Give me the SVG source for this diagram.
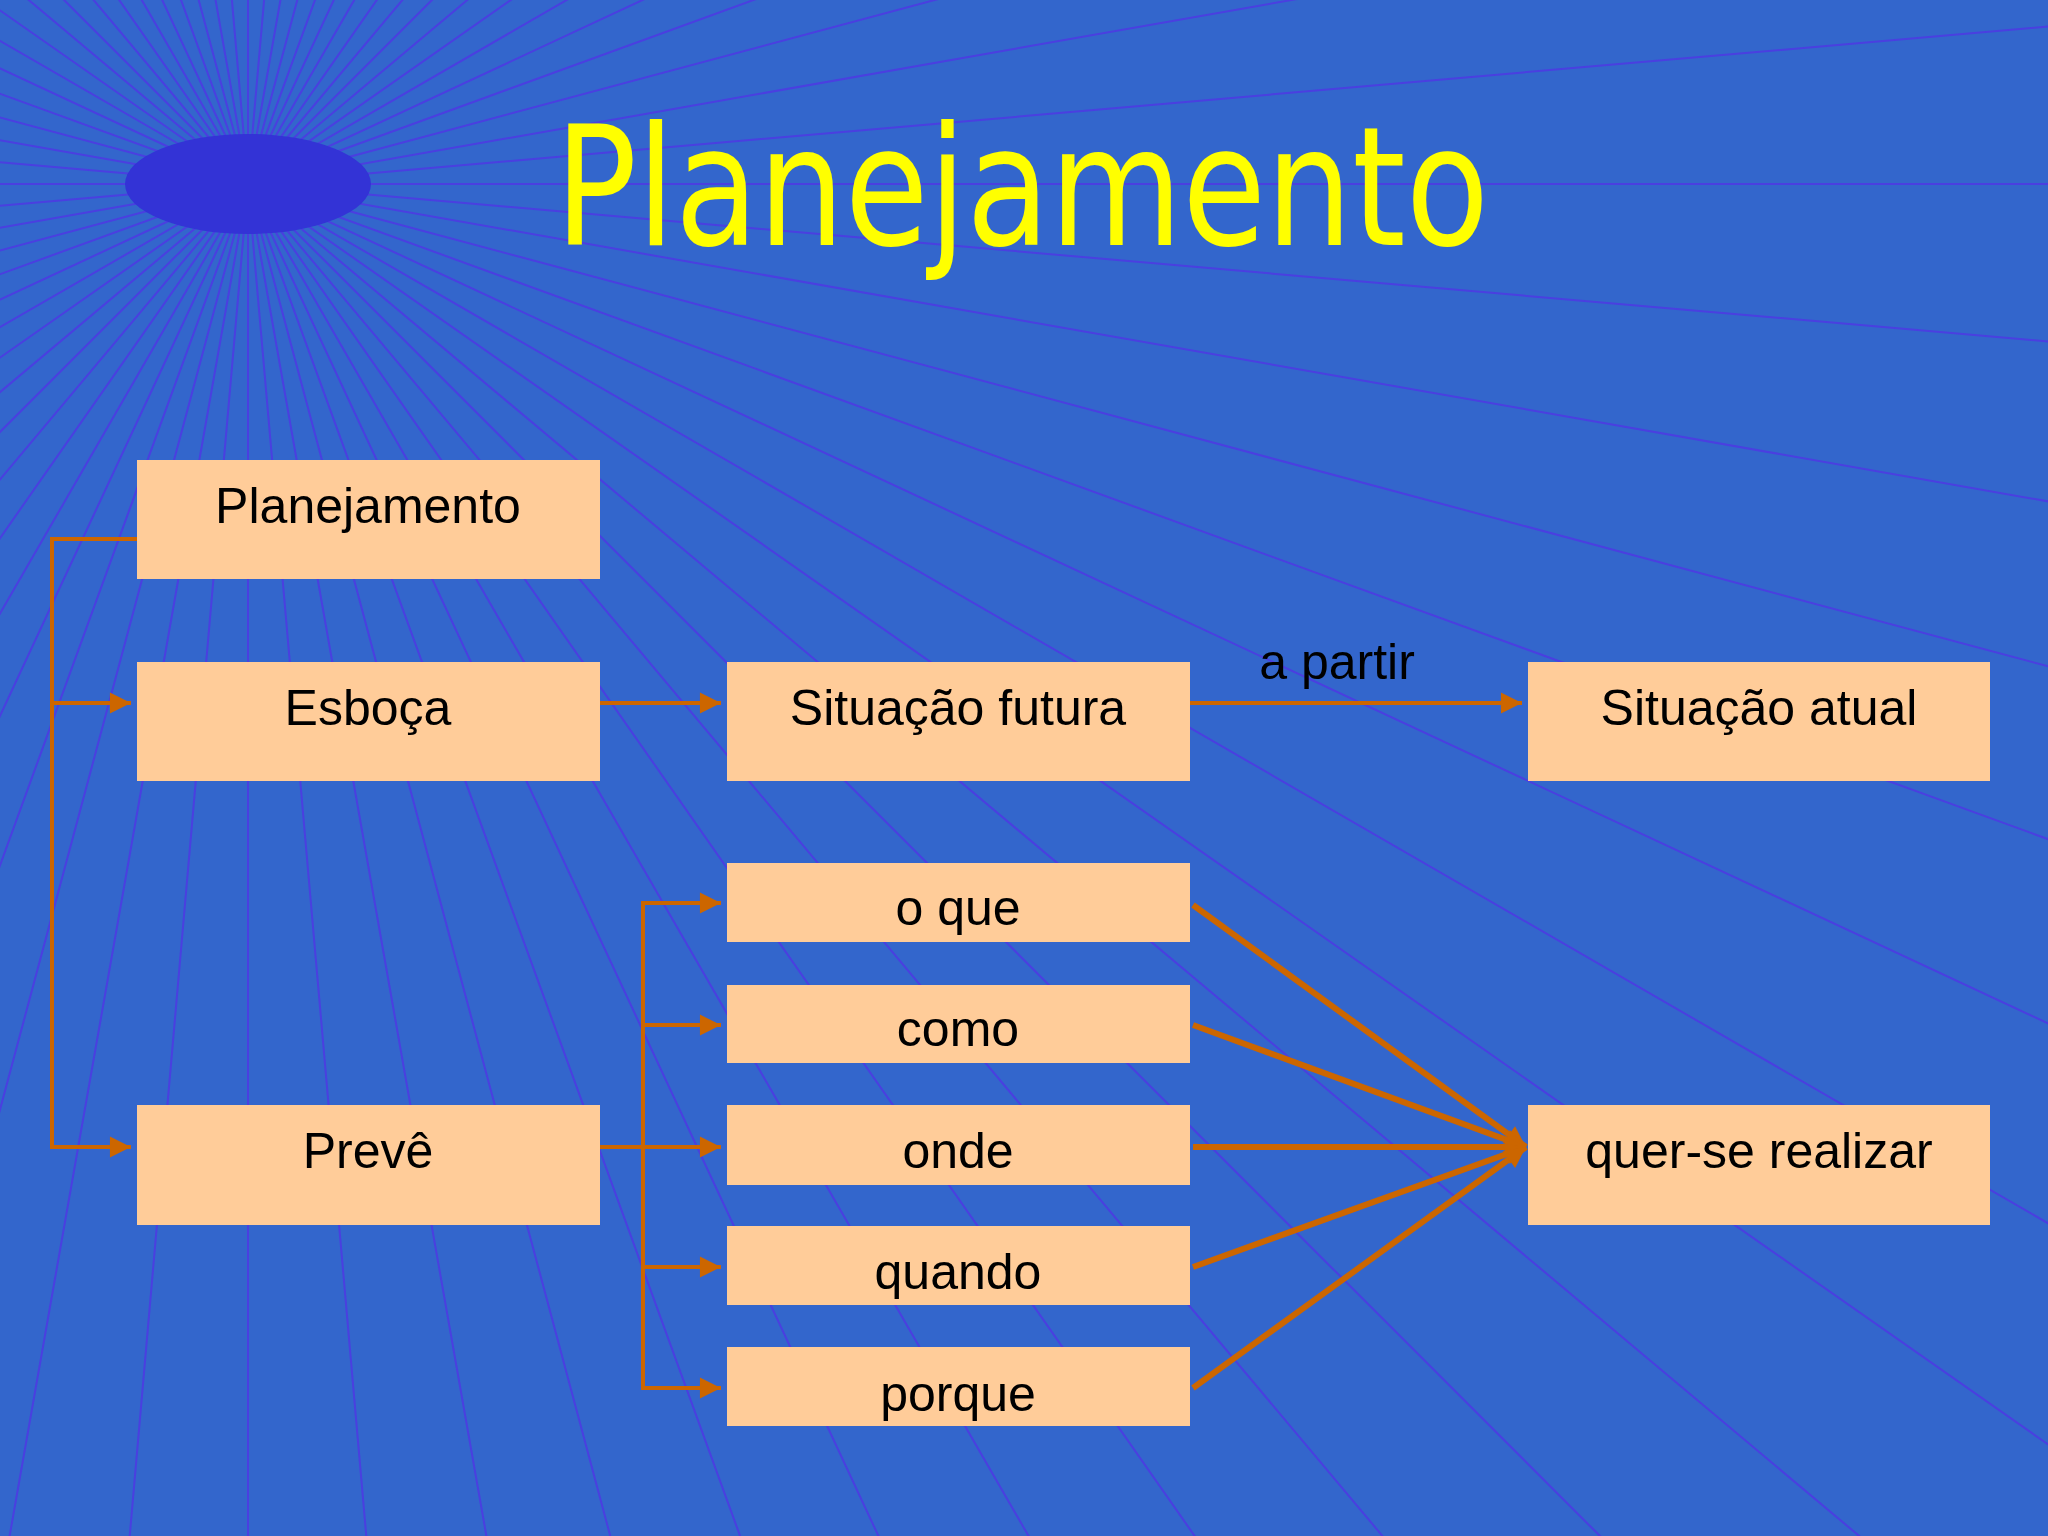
<svg xmlns="http://www.w3.org/2000/svg" width="2048" height="1536" viewBox="0 0 2048 1536">
<style>
.ray{stroke:#4a3fe0;stroke-width:2}
.box{fill:#ffcc99}
.t{font-family:"Liberation Sans",Arial,sans-serif;font-size:50px;fill:#000;text-anchor:middle}
.c{stroke:#cc6600;stroke-width:4;fill:none}
.d{stroke:#cc6600;stroke-width:6;fill:none}
</style>
<defs>
<marker id="a" viewBox="0 0 10 10" refX="10" refY="5" markerWidth="7" markerHeight="7" markerUnits="userSpaceOnUse" orient="auto" style="overflow:visible"><path d="M0,0L10,5L0,10Z" fill="#cc6600" transform="scale(3) translate(-6.7 -3.3)"/></marker>
<clipPath id="k1"><rect x="727" y="863" width="463" height="79"/></clipPath>
<clipPath id="k2"><rect x="727" y="985" width="463" height="78"/></clipPath>
<clipPath id="k3"><rect x="727" y="1105" width="463" height="80"/></clipPath>
<clipPath id="k4"><rect x="727" y="1226" width="463" height="79"/></clipPath>
<clipPath id="k5"><rect x="727" y="1347" width="463" height="79"/></clipPath>
</defs>
<rect width="2048" height="1536" fill="#3366cc"/>
<g id="sun" transform="translate(248 184)">
<g class="ray">
<line x2="3000" transform="rotate(0)"/><line x2="3000" transform="rotate(5)"/><line x2="3000" transform="rotate(10)"/><line x2="3000" transform="rotate(15)"/><line x2="3000" transform="rotate(20)"/><line x2="3000" transform="rotate(25)"/><line x2="3000" transform="rotate(30)"/><line x2="3000" transform="rotate(35)"/><line x2="3000" transform="rotate(40)"/><line x2="3000" transform="rotate(45)"/><line x2="3000" transform="rotate(50)"/><line x2="3000" transform="rotate(55)"/><line x2="3000" transform="rotate(60)"/><line x2="3000" transform="rotate(65)"/><line x2="3000" transform="rotate(70)"/><line x2="3000" transform="rotate(75)"/><line x2="3000" transform="rotate(80)"/><line x2="3000" transform="rotate(85)"/><line x2="3000" transform="rotate(90)"/><line x2="3000" transform="rotate(95)"/><line x2="3000" transform="rotate(100)"/><line x2="3000" transform="rotate(105)"/><line x2="3000" transform="rotate(110)"/><line x2="3000" transform="rotate(115)"/><line x2="3000" transform="rotate(120)"/><line x2="3000" transform="rotate(125)"/><line x2="3000" transform="rotate(130)"/><line x2="3000" transform="rotate(135)"/><line x2="3000" transform="rotate(140)"/><line x2="3000" transform="rotate(145)"/><line x2="3000" transform="rotate(150)"/><line x2="3000" transform="rotate(155)"/><line x2="3000" transform="rotate(160)"/><line x2="3000" transform="rotate(165)"/><line x2="3000" transform="rotate(170)"/><line x2="3000" transform="rotate(175)"/><line x2="3000" transform="rotate(180)"/><line x2="3000" transform="rotate(185)"/><line x2="3000" transform="rotate(190)"/><line x2="3000" transform="rotate(195)"/><line x2="3000" transform="rotate(200)"/><line x2="3000" transform="rotate(205)"/><line x2="3000" transform="rotate(210)"/><line x2="3000" transform="rotate(215)"/><line x2="3000" transform="rotate(220)"/><line x2="3000" transform="rotate(225)"/><line x2="3000" transform="rotate(230)"/><line x2="3000" transform="rotate(235)"/><line x2="3000" transform="rotate(240)"/><line x2="3000" transform="rotate(245)"/><line x2="3000" transform="rotate(250)"/><line x2="3000" transform="rotate(255)"/><line x2="3000" transform="rotate(260)"/><line x2="3000" transform="rotate(265)"/><line x2="3000" transform="rotate(270)"/><line x2="3000" transform="rotate(275)"/><line x2="3000" transform="rotate(280)"/><line x2="3000" transform="rotate(285)"/><line x2="3000" transform="rotate(290)"/><line x2="3000" transform="rotate(295)"/><line x2="3000" transform="rotate(300)"/><line x2="3000" transform="rotate(305)"/><line x2="3000" transform="rotate(310)"/><line x2="3000" transform="rotate(315)"/><line x2="3000" transform="rotate(320)"/><line x2="3000" transform="rotate(325)"/><line x2="3000" transform="rotate(330)"/><line x2="3000" transform="rotate(335)"/><line x2="3000" transform="rotate(340)"/><line x2="3000" transform="rotate(345)"/><line x2="3000" transform="rotate(350)"/><line x2="3000" transform="rotate(355)"/>
</g>
<ellipse rx="123" ry="50" fill="#3333d6"/>
</g>
<text x="1022" y="245" font-family="'DejaVu Sans',sans-serif" font-size="165" fill="#ffff00" text-anchor="middle" textLength="934" lengthAdjust="spacingAndGlyphs">Planejamento</text>
<g id="connectors">
<path class="c" d="M137,539H52V1147H131" marker-end="url(#a)"/>
<path class="c" d="M52,703H131" marker-end="url(#a)"/>
<path class="c" d="M600,703H721" marker-end="url(#a)"/>
<path class="c" d="M1190,703H1522" marker-end="url(#a)"/>
<path class="c" d="M600,1147H643" />
<path class="c" d="M721,903H643V1388H721" marker-end="url(#a)"/>
<path class="c" d="M643,903H721" marker-end="url(#a)"/>
<path class="c" d="M643,1025H721" marker-end="url(#a)"/>
<path class="c" d="M643,1147H721" marker-end="url(#a)"/>
<path class="c" d="M643,1267H721" marker-end="url(#a)"/>
<path class="d" d="M1193,905L1526,1147" marker-end="url(#a)"/>
<path class="d" d="M1193,1025L1526,1147" marker-end="url(#a)"/>
<path class="d" d="M1193,1147H1526" marker-end="url(#a)"/>
<path class="d" d="M1193,1267L1526,1147" marker-end="url(#a)"/>
<path class="d" d="M1193,1388L1526,1147" marker-end="url(#a)"/>
<text x="1337" y="679" class="t" font-size="42">a partir</text>
</g>
<g id="planejamento"><rect class="box" x="137" y="460" width="463" height="119"/><text class="t" x="368" y="523">Planejamento</text></g>
<g id="esboca"><rect class="box" x="137" y="662" width="463" height="119"/><text class="t" x="368" y="725">Esboça</text></g>
<g id="futura"><rect class="box" x="727" y="662" width="463" height="119"/><text class="t" x="958" y="725">Situação futura</text></g>
<g id="atual"><rect class="box" x="1528" y="662" width="462" height="119"/><text class="t" x="1759" y="725">Situação atual</text></g>
<g id="preve"><rect class="box" x="137" y="1105" width="463" height="120"/><text class="t" x="368" y="1168">Prevê</text></g>
<g id="realizar"><rect class="box" x="1528" y="1105" width="462" height="120"/><text class="t" x="1759" y="1168">quer-se realizar</text></g>
<g id="oque" clip-path="url(#k1)"><rect class="box" x="727" y="863" width="463" height="79"/><text class="t" x="958" y="925">o que</text></g>
<g id="como" clip-path="url(#k2)"><rect class="box" x="727" y="985" width="463" height="78"/><text class="t" x="958" y="1046">como</text></g>
<g id="onde" clip-path="url(#k3)"><rect class="box" x="727" y="1105" width="463" height="80"/><text class="t" x="958" y="1168">onde</text></g>
<g id="quando" clip-path="url(#k4)"><rect class="box" x="727" y="1226" width="463" height="79"/><text class="t" x="958" y="1289">quando</text></g>
<g id="porque" clip-path="url(#k5)"><rect class="box" x="727" y="1347" width="463" height="79"/><text class="t" x="958" y="1411">porque</text></g>
</svg>
